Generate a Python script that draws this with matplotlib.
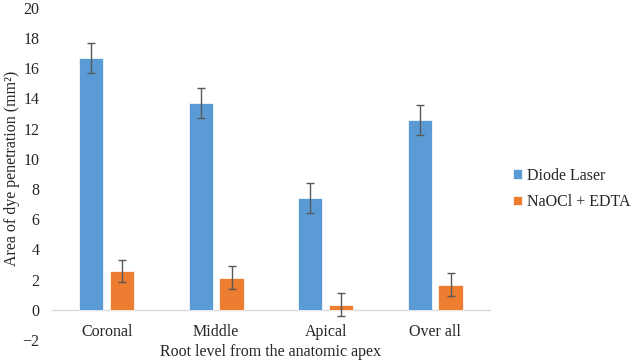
import numpy as np
import matplotlib
matplotlib.use("Agg")
import matplotlib.pyplot as plt

plt.rcParams["font.family"] = ["Liberation Serif", "DejaVu Serif"]

# dados
categorias = ["Coronal", "Middle", "Apical", "Over all"]
laser = [16.7, 13.7, 7.4, 12.6]
laser_err = [1.0, 1.0, 1.0, 1.0]
naocl = [2.57, 2.13, 0.34, 1.67]
naocl_err = [0.75, 0.75, 0.74, 0.76]

fig = plt.figure(figsize=(6.33, 3.62), dpi=100)
ax = fig.add_axes([0.082, 0.061, 0.692, 0.917])

x = np.arange(len(categorias))
w = 0.22
off = 0.14

ekw = dict(ecolor="#595959", elinewidth=1.0, capsize=3, capthick=1.0)
ax.bar(x - off, laser, w, yerr=laser_err, color="#5B9BD5", edgecolor="white",
       linewidth=0.5, label="Diode Laser", error_kw=ekw, zorder=2)
ax.bar(x + off, naocl, w, yerr=naocl_err, color="#ED7D31", edgecolor="white",
       linewidth=0.5, label="NaOCl + EDTA", error_kw=ekw, zorder=2)

ax.set_xlim(-0.5, len(categorias) - 0.5)
ax.set_ylim(-2, 20)
ax.set_yticks(range(-2, 21, 2))
ax.set_xticks(x)
ax.set_xticklabels(categorias)

# eixo das categorias cruza em zero
for s in ["top", "right", "left"]:
    ax.spines[s].set_visible(False)
ax.spines["bottom"].set_position(("data", 0))
ax.spines["bottom"].set_color("#D9D9D9")
ax.spines["bottom"].set_linewidth(1.0)
ax.spines["bottom"].set_zorder(1)

ax.tick_params(axis="both", length=0, labelsize=11.5, colors="#262626")
ax.tick_params(axis="x", pad=10)
ax.tick_params(axis="y", pad=9)

ax.set_xlabel("Root level from the anatomic apex", fontsize=11.5, color="#262626", labelpad=3)
ax.set_ylabel("Area of dye penetration (mm²)", fontsize=11.5, color="#262626")
ax.yaxis.set_label_coords(-0.072, 0.518)

ax.legend(loc="center left", bbox_to_anchor=(1.02, 0.455), frameon=False,
          fontsize=11.5, handlelength=0.55, handleheight=0.55, handletextpad=0.3,
          labelspacing=0.65, labelcolor="#262626")

fig.savefig("out.png", dpi=100)
